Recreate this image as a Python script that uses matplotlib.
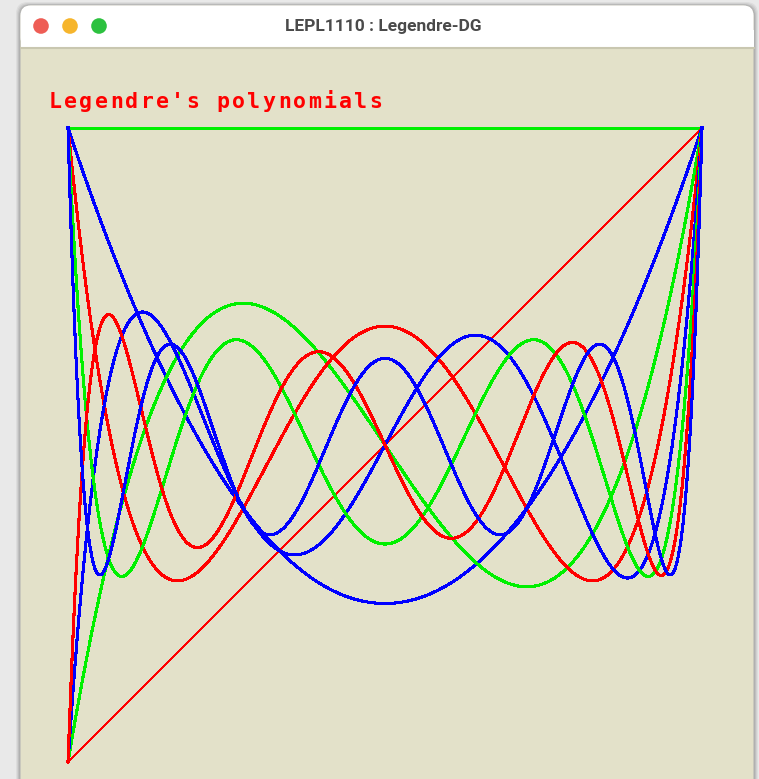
import numpy as np
import matplotlib.pyplot as plt
from matplotlib.patches import FancyBboxPatch, Circle
from numpy.polynomial import legendre as L

# Legendre polynomials P0..P8, colours cycle green / red / blue
degrees = [0, 1, 2, 3, 4, 5, 6, 7, 8]
colors = ["#00f000", "#ff0000", "#0000ff"]
widths = {0: 2.0, 1: 1.0}
x_range = (-1.0, 1.0)
n_samples = 400

title = "Legendre's polynomials"
window_title = "LEPL1110 : Legendre-DG"
lights = ["#ee5d55", "#f6b52c", "#2cc13f"]

W, H = 759, 779
fig = plt.figure(figsize=(W / 100, H / 100), dpi=100)
fig.patch.set_facecolor("#e9e9e9")

# window frame in pixel coords
bg = fig.add_axes([0, 0, 1, 1])
bg.set_xlim(0, W)
bg.set_ylim(H, 0)
bg.axis("off")

for i, a in enumerate([0.05, 0.06, 0.08, 0.10]):
    pad = 4 - i
    bg.add_patch(FancyBboxPatch((20 - pad, 5 - pad + 1), 734 + 2 * pad, 800,
                                boxstyle="round,pad=0,rounding_size=12",
                                fc="black", ec="none", alpha=a))
bg.add_patch(FancyBboxPatch((20, 5), 734, 800, boxstyle="round,pad=0,rounding_size=11",
                            fc="#e3e1c9", ec="#b5b5b5", lw=0.8))
bg.add_patch(FancyBboxPatch((20.5, 5.5), 733, 42, boxstyle="round,pad=0,rounding_size=10",
                            fc="white", ec="none"))
bg.add_patch(plt.Rectangle((20.5, 30), 733, 17.5, fc="white", ec="none"))
bg.plot([20.5, 753.5], [48, 48], color="#c9c7b0", lw=1.5)

for k, c in enumerate(lights):
    bg.add_patch(Circle((41 + 29 * k, 26), 7.8, fc=c, ec="none"))
bg.text(383, 26, window_title, ha="center", va="center", fontsize=12.5,
        fontweight="bold", family="Roboto", color="#4a4a4a")

# pixel-style title, one glyph per fixed cell
for k, ch in enumerate(title):
    bg.text(49 + 15.25 * k, 108, ch, ha="left", va="baseline", fontsize=15.5,
            family="DejaVu Sans Mono", fontweight="semibold", color="#ff0000")

# plot area
ax = fig.add_axes([68 / W, (H - 762) / H, 634 / W, 634 / H])
ax.set_xlim(*x_range)
ax.set_ylim(-1, 1)
ax.axis("off")

x = np.linspace(x_range[0], x_range[1], n_samples)
for n in degrees:
    c = np.zeros(n + 1)
    c[n] = 1.0
    y = L.legval(x, c)
    ax.plot(x, y, color=colors[n % 3], lw=widths.get(n, 1.5),
            antialiased=False, clip_on=False)

fig.savefig("out.png", dpi=100, facecolor=fig.get_facecolor())
